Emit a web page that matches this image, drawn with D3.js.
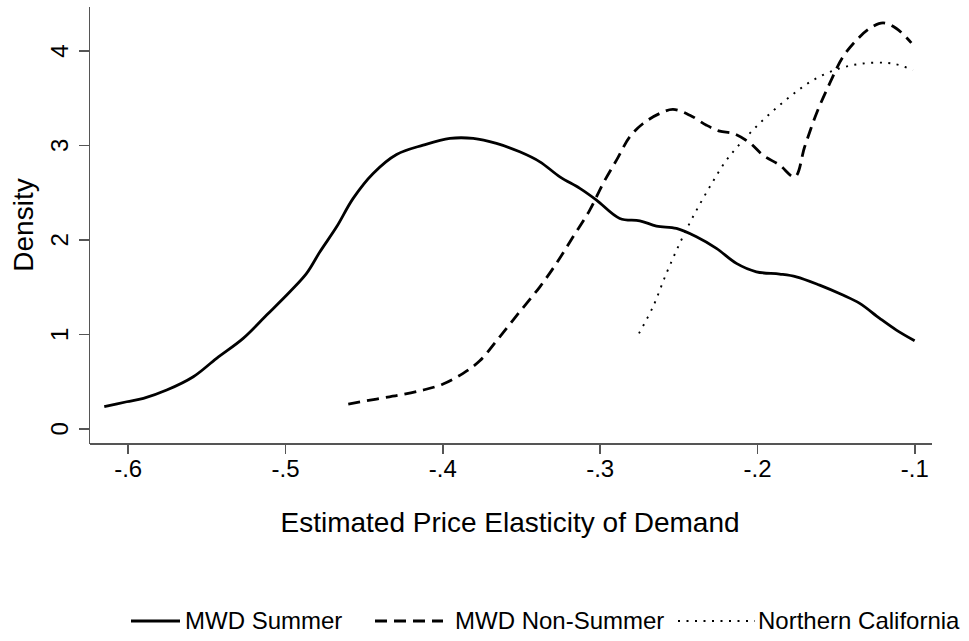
<html>
<head>
    <meta http-equiv='Content-Type' content='text/html; charset=utf-8'>
    <script src="https://d3js.org/d3.v7.min.js" charset="utf-8"></script>

    <style>

    body {
        margin: 0px;
        background-color: #ffffff;
    }

    svg text {
        font-family: "Liberation Sans", Arial, sans-serif;
        fill: #000000;
    }

    svg .axis path,
    svg .axis line {
        stroke: #555555;
        stroke-width: 1.6px;
        fill: none;
        shape-rendering: crispEdges;
    }

    svg .axis text {
        font-size: 24px;
    }

    svg .axisTitle {
        font-size: 28px;
        text-anchor: middle;
    }

    svg .curve {
        fill: none;
        stroke: #000000;
        stroke-linejoin: round;
    }

    svg .legendLabel {
        font-size: 24px;
    }

    </style>
</head>

<body>

    <script>

    var w = 969;
    var h = 641;

    /* Kernel density curves */
    var summerX = [-0.6149, -0.6006, -0.590, -0.5752, -0.5583, -0.5435, -0.5266, -0.5117, -0.4969, -0.4863,
                   -0.4778, -0.4672, -0.4567, -0.4440, -0.4291, -0.4122, -0.3952, -0.3804, -0.3656, -0.3508,
                   -0.3380, -0.3253, -0.3126, -0.3020, -0.2872, -0.2745, -0.2639, -0.2512, -0.2385, -0.2258,
                   -0.2131, -0.2004, -0.1856, -0.1750, -0.1602, -0.1454, -0.1347, -0.1220, -0.1114, -0.0998];
    var summerY = [0.229, 0.281, 0.317, 0.405, 0.546, 0.741, 0.952, 1.199, 1.446, 1.640,
                   1.869, 2.133, 2.434, 2.698, 2.899, 2.998, 3.069, 3.069, 3.016, 2.927,
                   2.821, 2.662, 2.540, 2.416, 2.222, 2.197, 2.141, 2.116, 2.028, 1.905,
                   1.746, 1.657, 1.633, 1.604, 1.516, 1.411, 1.323, 1.164, 1.040, 0.927];

    var nonSummerX = [-0.4598, -0.4418, -0.4270, -0.4122, -0.3995, -0.3868, -0.3762, -0.3635, -0.3508, -0.3380,
                      -0.3275, -0.3169, -0.3063, -0.2978, -0.2893, -0.2809, -0.2724, -0.2618, -0.2534, -0.2427,
                      -0.2321, -0.2237, -0.2152, -0.2046, -0.1962, -0.1856, -0.1760, -0.1697, -0.1622, -0.1538,
                      -0.1454, -0.1368, -0.1284, -0.1199, -0.1114, -0.1019];
    var nonSummerY = [0.257, 0.310, 0.352, 0.405, 0.469, 0.582, 0.715, 0.969, 1.234, 1.498,
                      1.746, 2.028, 2.310, 2.593, 2.839, 3.086, 3.227, 3.333, 3.376, 3.315,
                      3.209, 3.146, 3.122, 3.022, 2.892, 2.786, 2.662, 2.980, 3.333, 3.651,
                      3.932, 4.109, 4.233, 4.292, 4.233, 4.080];

    var northX = [-0.2750, -0.2661, -0.2576, -0.2491, -0.2407, -0.2300, -0.2194, -0.2067, -0.1940, -0.1792,
                  -0.1644, -0.1475, -0.1327, -0.1178, -0.1093, -0.1009];
    var northY = [1.005, 1.287, 1.640, 1.958, 2.239, 2.557, 2.839, 3.086, 3.297, 3.509,
                  3.686, 3.810, 3.862, 3.869, 3.845, 3.792];

    var xTicks = [-0.6, -0.5, -0.4, -0.3, -0.2, -0.1];
    var yTicks = [0, 1, 2, 3, 4];
    var seriesNames = ["MWD Summer", "MWD Non-Summer", "Northern California"];

    /* Scales */

    var xScale = d3.scaleLinear().domain([-0.6246, -0.0894]).range([89, 931]);
    var yScale = d3.scaleLinear().domain([-0.161, 4.471]).range([443.5, 6]);

    function zipPoints(xs, ys) {
        return xs.map(function(x, i) { return [x, ys[i]]; });
    }

    var series = [
        {name: seriesNames[0], points: zipPoints(summerX, summerY), width: 2.8, dash: null},
        {name: seriesNames[1], points: zipPoints(nonSummerX, nonSummerY), width: 2.8, dash: "12,7"},
        {name: seriesNames[2], points: zipPoints(northX, northY), width: 1.9, dash: "2,6.5"}
    ];

    var svg = d3.select("body")
    .append("svg")
    .attr("width", w)
    .attr("height", h);

    /* Axes */

    var xAxis = d3.axisBottom(xScale)
    .tickValues(xTicks)
    .tickSize(10)
    .tickSizeOuter(0)
    .tickPadding(6)
    .tickFormat(function(d) { return "-." + Math.round(-d * 10); });

    var gx = svg.append("g")
    .attr("class", "axis")
    .attr("transform", "translate(0,443.5)")
    .call(xAxis);

    var yAxis = d3.axisLeft(yScale)
    .tickValues(yTicks)
    .tickSize(10)
    .tickSizeOuter(0)
    .tickFormat(d3.format("d"));

    var gy = svg.append("g")
    .attr("class", "axis")
    .attr("transform", "translate(89,0)")
    .call(yAxis);

    /* Rotate y tick labels like Stata does */
    gy.selectAll(".tick text")
    .attr("x", null)
    .attr("dy", null)
    .attr("transform", "translate(-21,0) rotate(-90)")
    .style("text-anchor", "middle");

    /* Curves */

    var line = d3.line()
    .x(function(d) { return xScale(d[0]); })
    .y(function(d) { return yScale(d[1]); })
    .curve(d3.curveCatmullRom);

    svg.selectAll("path.curve")
    .data(series)
    .enter()
    .append("path")
    .attr("class", "curve")
    .attr("d", function(d) { return line(d.points); })
    .attr("stroke-width", function(d) { return d.width; })
    .attr("stroke-dasharray", function(d) { return d.dash; });

    /* Axis titles */

    svg.append("text")
    .attr("class", "axisTitle")
    .attr("x", 510)
    .attr("y", 532)
    .text("Estimated Price Elasticity of Demand");

    svg.append("text")
    .attr("class", "axisTitle")
    .attr("transform", "translate(33,225) rotate(-90)")
    .text("Density");

    /* Legend */

    var legendKeys = [
        {x1: 131, x2: 180, tx: 185},
        {x1: 375, x2: 443, tx: 455},
        {x1: 678, x2: 755, tx: 758}
    ];

    var legend = svg.selectAll("g.legend")
    .data(series)
    .enter()
    .append("g")
    .attr("class", "legend");

    legend.append("line")
    .attr("x1", function(d, i) { return legendKeys[i].x1; })
    .attr("x2", function(d, i) { return legendKeys[i].x2; })
    .attr("y1", 621)
    .attr("y2", 621)
    .attr("stroke", "#000")
    .attr("stroke-width", function(d) { return d.width; })
    .attr("stroke-dasharray", function(d) { return d.dash; });

    legend.append("text")
    .attr("class", "legendLabel")
    .attr("x", function(d, i) { return legendKeys[i].tx; })
    .attr("y", 629)
    .text(function(d) { return d.name; });

    </script>

</body>
</html>
